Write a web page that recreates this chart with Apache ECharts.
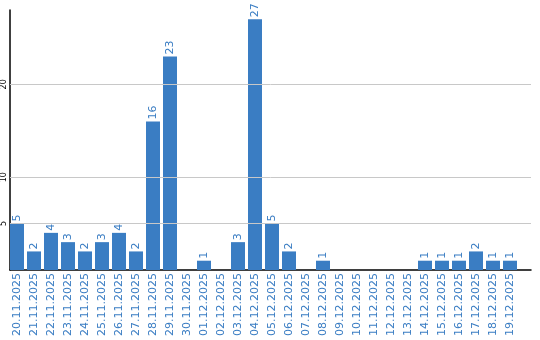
<!DOCTYPE html>
<html><head><meta charset="utf-8">
<script src="https://cdn.jsdelivr.net/npm/echarts@6/dist/echarts.min.js"></script>
<style>html,body{margin:0;padding:0;background:#fff}#c{width:540px;height:340px}</style>
</head><body><div id="c"></div>
<script>
const categories = ['20.11.2025','21.11.2025','22.11.2025','23.11.2025','24.11.2025','25.11.2025','26.11.2025','27.11.2025','28.11.2025','29.11.2025','30.11.2025','01.12.2025','02.12.2025','03.12.2025','04.12.2025','05.12.2025','06.12.2025','07.12.2025','08.12.2025','09.12.2025','10.12.2025','11.12.2025','12.12.2025','13.12.2025','14.12.2025','15.12.2025','16.12.2025','17.12.2025','18.12.2025','19.12.2025'];
const values = [5,2,4,3,2,3,4,2,16,23,0,1,0,3,27,5,2,0,1,0,0,0,0,0,1,1,1,2,1,1];
const yTicks = [5,10,20];
const yMax = 28;

const blue = '#3a7dc3';
const font = 'DejaVu Sans';
const chart = echarts.init(document.getElementById('c'), null, {renderer:'canvas'});
chart.setOption({
  animation:false,
  grid:[
    {left:8.5, right:21.5, top:10, bottom:70, containLabel:false},
    {left:10, right:9, top:10, bottom:70, containLabel:false}
  ],
  xAxis:[
    {type:'category', gridIndex:0, data:categories,
     axisLine:{show:false}, axisTick:{show:false},
     axisLabel:{rotate:90, color:blue, fontSize:11, fontFamily:font, margin:3, interval:0}},
    {type:'value', gridIndex:1, min:0, max:1,
     axisLine:{show:true, lineStyle:{color:'#000', width:1.5}}, axisTick:{show:false},
     axisLabel:{show:false}, splitLine:{show:false}}
  ],
  yAxis:[
    {type:'value', gridIndex:0, min:0, max:yMax, show:false, splitLine:{show:false}},
    {type:'value', gridIndex:1, min:0, max:yMax,
     axisLine:{show:true, lineStyle:{color:'#000', width:1.5}}, axisTick:{show:false},
     axisLabel:{customValues:yTicks, rotate:90, color:'#000', fontSize:8, fontFamily:font, margin:2},
     splitLine:{show:false}}
  ],
  series:[
    {type:'line', xAxisIndex:1, yAxisIndex:1, data:[[0,0]], symbol:'none', silent:true, z:1,
     lineStyle:{opacity:0},
     markLine:{silent:true, symbol:'none', label:{show:false},
       lineStyle:{color:'#c8c8c8', type:'solid', width:1},
       data: yTicks.map(v=>({yAxis:v}))}},
    {type:'bar', xAxisIndex:0, yAxisIndex:0, data:values, barWidth:14, z:2,
     itemStyle:{color:blue},
     label:{show:true, position:'top', rotate:90, align:'left', verticalAlign:'middle', distance:2,
       color:blue, fontSize:11, fontFamily:font,
       formatter:p=>p.value ? String(p.value) : ''}}
  ]
});
</script></body></html>
